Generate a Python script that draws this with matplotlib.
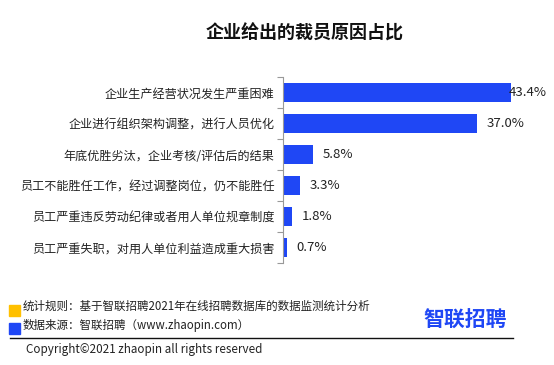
import matplotlib
matplotlib.use("Agg")
import matplotlib.pyplot as plt
from matplotlib.patches import Rectangle
from matplotlib.ticker import FixedLocator

plt.rcParams['font.family'] = ['Noto Sans CJK SC', 'DejaVu Sans']

title = "企业给出的裁员原因占比"
categories = [
    "企业生产经营状况发生严重困难",
    "企业进行组织架构调整，进行人员优化",
    "年底优胜劣汰，企业考核/评估后的结果",
    "员工不能胜任工作，经过调整岗位，仍不能胜任",
    "员工严重违反劳动纪律或者用人单位规章制度",
    "员工严重失职，对用人单位利益造成重大损害",
]
values = [43.4, 37.0, 5.8, 3.3, 1.8, 0.7]
value_labels = ["43.4%", "37.0%", "5.8%", "3.3%", "1.8%", "0.7%"]
note1 = "统计规则：基于智联招聘2021年在线招聘数据库的数据监测统计分析"
note2 = "数据来源：智联招聘（www.zhaopin.com）"
copyright_text = "Copyright©2021 zhaopin all rights reserved"
logo = "智联招聘"

W, H = 554, 365
fig = plt.figure(figsize=(W / 100, H / 100), dpi=100)
fig.patch.set_facecolor("white")

bar_color = "#1F47F5"
xmax = 48
ax_left, ax_top, ax_bottom = 283, 77, 263
ax_w = xmax * 5.25
ax = fig.add_axes([ax_left / W, 1 - ax_bottom / H, ax_w / W, (ax_bottom - ax_top) / H])

n = len(categories)
ypos = list(range(n))
ax.barh(ypos, values, height=0.64, color=bar_color)
ax.set_ylim(n - 0.5, -0.5)
ax.set_xlim(0, xmax)

for y, v, lab in zip(ypos, values, value_labels):
    ax.text(min(v + 1.8, 43.0), y, lab, va="center", ha="left",
            fontsize=9.5, color="#222222")

ax.set_yticks(ypos)
ax.set_yticklabels(categories, fontsize=8.7, color="#222222")
ax.yaxis.set_minor_locator(FixedLocator([i - 0.5 for i in range(n + 1)]))
ax.tick_params(axis="y", which="major", length=0, pad=6)
ax.tick_params(axis="y", which="minor", length=4, color="#999999", width=0.8)
ax.set_xticks([])
for s in ["top", "right", "bottom"]:
    ax.spines[s].set_visible(False)
ax.spines["left"].set_color("#999999")
ax.spines["left"].set_linewidth(0.8)

fig.text(305 / W, 1 - 33 / H, title, ha="center", va="center",
         fontsize=13, fontweight="bold", color="#111111")

# footer
fig.patches.append(Rectangle((9 / W, 1 - 316 / H), 11 / W, 11 / H,
                             transform=fig.transFigure, color="#FFC000"))
fig.patches.append(Rectangle((9 / W, 1 - 334 / H), 11 / W, 11 / H,
                             transform=fig.transFigure, color=bar_color))
fig.text(23 / W, 1 - 306 / H, note1, ha="left", va="center", fontsize=8.3, color="#222222")
fig.text(23 / W, 1 - 325 / H, note2, ha="left", va="center", fontsize=8.3, color="#222222")
fig.add_artist(plt.Line2D([10 / W, 513 / W], [1 - 338 / H, 1 - 338 / H],
                          transform=fig.transFigure, color="#111111", linewidth=1))
fig.text(26 / W, 1 - 349 / H, copyright_text, ha="left", va="center", fontsize=8.4, color="#222222")
fig.text(465 / W, 1 - 320 / H, logo, ha="center", va="center", fontsize=15,
         fontweight="bold", color="#1F47F5")

fig.savefig("out.png", dpi=100, facecolor="white")
